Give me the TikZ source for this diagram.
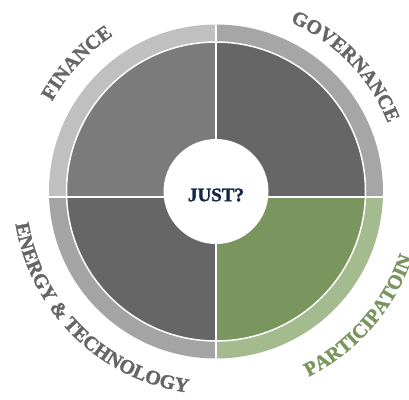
\documentclass[tikz,border=0pt]{standalone}
\usepackage{fontspec}
\setmainfont{Liberation Serif}[BoldFeatures={FakeBold=1.6}]
\usepackage{tikz}
\usetikzlibrary{decorations.text}
\definecolor{ringTL}{HTML}{C0C0C0}
\definecolor{ringTR}{HTML}{A6A6A6}
\definecolor{ringBL}{HTML}{A4A4A4}
\definecolor{ringBR}{HTML}{A4BA8F}
\definecolor{diskTL}{HTML}{7B7B7B}
\definecolor{diskTR}{HTML}{666666}
\definecolor{diskBL}{HTML}{666666}
\definecolor{diskBR}{HTML}{7A955E}
\definecolor{labelgray}{HTML}{666666}
\definecolor{justnavy}{HTML}{14264A}
% one quarter: clip box, ring colour, disk colour
\newcommand{\quarter}[4]{\begin{scope}
    \clip #1 rectangle #2;
    \fill[#3] (0,0) circle (167);
    \fill[#4,draw=white,line width=1.5] (0,0) circle (149.5);
  \end{scope}}
\newcommand{\lbl}[1]{|\fontsize{20}{24}\selectfont\bfseries\color{#1}|}

\begin{document}
\begin{tikzpicture}[x=1pt,y=1pt,
    divider/.style={white,line width=1.5},
    arc label/.style={decorate,decoration={text along path,text align=center}}]
  \useasboundingbox (-216,-207.5) rectangle (193,191.5);

  \quarter{(-170,-5.5)}{(0,170)}{ringTL}{diskTL}
  \quarter{(0,-5.5)}{(170,170)}{ringTR}{diskTR}
  \quarter{(-170,-170)}{(0,-5.5)}{ringBL}{diskBL}
  \quarter{(0,-170)}{(170,-5.5)}{ringBR}{diskBR}

  \begin{scope}
    \clip (0,0) circle (167);
    \draw[divider] (0,170) -- (0,-170);
    \draw[divider] (-170,-5.5) -- (170,-5.5);
  \end{scope}

  \fill[white] (0,0) circle (52.5);
  \node[justnavy,font=\fontsize{19}{22}\selectfont\bfseries] (just) at (0,-3.5) {JUST?};

  % labels round the ring
  \path[arc label,decoration={text={\lbl{labelgray}FINANCE}}]
    (182.3:187) arc[start angle=182.3,end angle=92.3,radius=187];
  \path[arc label,decoration={text={\lbl{labelgray}GOVERNANCE}}]
    (104:185) arc[start angle=104,end angle=-16,radius=185];
  \path[arc label,decoration={text={\lbl{labelgray}ENERGY {\&} TECHNOLOGY}}]
    (165.6:203) arc[start angle=165.6,end angle=285.6,radius=203];
  \path[arc label,decoration={text={\lbl{diskBR}PARTICIPATOIN}}]
    (259:207) arc[start angle=259,end angle=379,radius=207];
\end{tikzpicture}
\end{document}
